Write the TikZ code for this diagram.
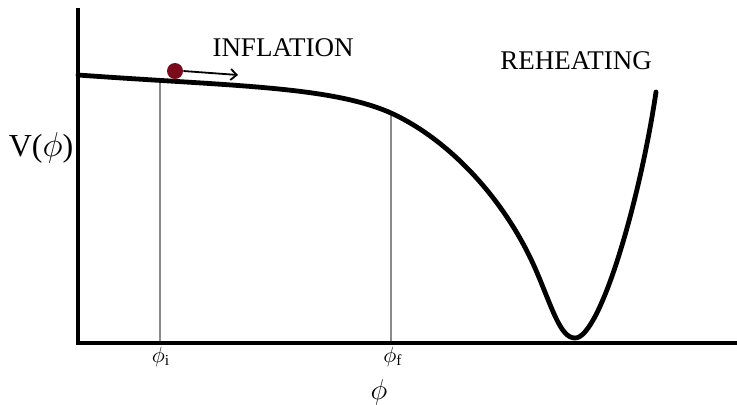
\documentclass[tikz,border=0pt]{standalone}
\usepackage{fontspec}
\setmainfont{Liberation Serif}
\usetikzlibrary{positioning,arrows.meta,calc}
\definecolor{balldark}{HTML}{7A0A1C}
\definecolor{linegray}{HTML}{8A8A8A}
\tikzset{
	lbl/.style={inner sep=0pt, font=\fontsize{13.5}{15}\selectfont},
	ticklbl/.style={inner sep=0pt, font=\fontsize{11}{13}\selectfont},
	marker/.style={draw=linegray, line width=1.4pt},
	potential/.style={line width=2.4pt, line cap=round, line join=round}
}
\begin{document}
\begin{tikzpicture}[x=0.5pt, y=-0.5pt]
				\useasboundingbox (0,0) rectangle (737,404);
				\coordinate (origin) at (78,343);
				\coordinate (ytop) at (78,8);
				\coordinate (xend) at (737,343);
				\coordinate (vstart) at (78,75);
				\coordinate (vi) at (160,81);
				\coordinate (vf) at (391,113);
				\coordinate (vsteep) at (535,268);
				\coordinate (vmin) at (575,338);
				\coordinate (vend) at (656,92);
				\coordinate (ai) at (160,343);
				\coordinate (af) at (391,343);
				\draw[marker] (vi) -- (ai);
				\draw[marker] (vf) -- (af);
				\draw[line width=1.8pt] (ytop) -- (origin) -- (xend);
				\draw[potential] (vstart) .. controls (230,86) and (330,86) .. (vf)
					.. controls (450,140) and (505,200) .. (vsteep)
					.. controls (552,307) and (560,338) .. (vmin)
					.. controls (600,338) and (640,200) .. (vend);
				\node[circle, fill=balldark, minimum size=8pt, inner sep=0pt] (ball) at (175,71) {};
				\coordinate (push) at (238,75);
				\draw[-{Straight Barb[length=3pt,width=5.5pt]}, line width=0.9pt] (ball.east) -- (push);
				\node[lbl] (inflation) at (283,48) {INFLATION};
				\node[lbl] (reheating) at (576,61) {REHEATING};
				\node[lbl, font=\fontsize{16}{18}\selectfont] (vphi) at (41,148) {V($\phi$)};
				\node[ticklbl] (phii) at (161,357) {$\phi_{\mathrm{i}}$};
				\node[ticklbl] (phif) at (393,357) {$\phi_{\mathrm{f}}$};
				\node[lbl, font=\fontsize{14}{16}\selectfont] (phi) at (379,392) {$\phi$};
			\end{tikzpicture}
\end{document}
